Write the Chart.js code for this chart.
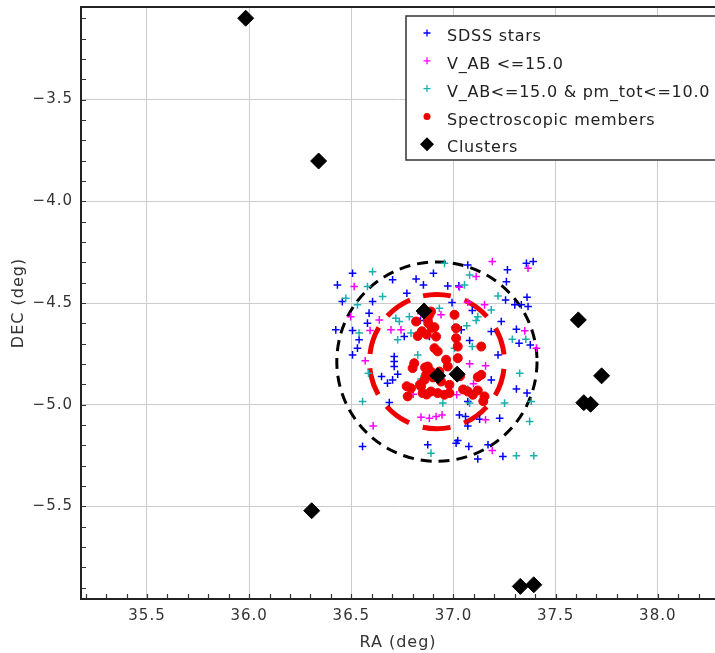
<!DOCTYPE html>
<html>
<head>
<meta charset="utf-8">
<title>Stars and clusters around the field centre</title>
<script src="https://cdn.jsdelivr.net/npm/chart.js@4.4.1/dist/chart.umd.min.js"></script>
<style>
    html, body { margin: 0; padding: 0; background: #fff; }
</style>
</head>
<body>
<canvas id="skyChart" width="715" height="653"></canvas>
<script>
// Sky positions in degrees, [RA, DEC]
const sdssStars = [
    [36.506, -4.354], [36.432, -4.411], [36.456, -4.493], [36.424, -4.632], [36.506, -4.635],
    [36.538, -4.681], [36.530, -4.722], [36.506, -4.755], [36.587, -4.550], [36.579, -4.599],
    [36.604, -4.493], [36.702, -4.386], [36.710, -4.763], [36.710, -4.788], [36.710, -4.812],
    [36.727, -4.850], [36.677, -4.894], [36.648, -4.861], [36.702, -4.878], [36.759, -4.665],
    [36.772, -4.452], [36.817, -4.382], [36.853, -4.411], [36.902, -4.354], [36.972, -4.416],
    [37.026, -4.416], [37.070, -4.313], [36.993, -4.498], [37.021, -4.624], [37.038, -4.632],
    [36.882, -4.665], [37.079, -4.684], [37.185, -4.640], [37.234, -4.591], [37.264, -4.337],
    [37.259, -4.395], [37.255, -4.485], [37.300, -4.509], [37.332, -4.509], [37.365, -4.517],
    [37.360, -4.472], [37.357, -4.305], [37.390, -4.296], [37.308, -4.629], [37.321, -4.698],
    [37.376, -4.706], [37.218, -4.755], [37.185, -4.878], [37.308, -4.923], [37.360, -4.943],
    [36.686, -4.989], [36.874, -5.197], [37.013, -5.189], [37.021, -5.176], [37.029, -5.050],
    [37.059, -5.058], [37.128, -5.071], [37.070, -5.104], [37.226, -5.066], [37.075, -5.205],
    [37.119, -5.267], [37.169, -5.197], [37.242, -5.254], [36.555, -5.205], [36.882, -4.935],
    [36.915, -4.943], [37.092, -4.537], [36.838, -4.586], [37.070, -4.984]
];
const brightStars = [
    [36.514, -4.419], [36.497, -4.567], [36.637, -4.583], [36.592, -4.635], [36.568, -4.784],
    [36.694, -4.632], [36.743, -4.632], [36.841, -4.553], [36.939, -4.558], [37.029, -4.422],
    [37.111, -4.370], [37.190, -4.296], [37.365, -4.329], [37.070, -4.496], [37.152, -4.509],
    [37.079, -4.799], [37.157, -4.809], [37.098, -4.897], [37.016, -4.951], [36.841, -5.061],
    [36.882, -5.066], [36.915, -5.058], [36.944, -5.050], [36.607, -5.104], [37.157, -5.074],
    [37.190, -5.225], [37.349, -4.637], [37.406, -4.722], [36.803, -4.948]
];
const brightLowPmStars = [
    [36.604, -4.346], [36.473, -4.477], [36.530, -4.509], [36.653, -4.468], [36.579, -4.419],
    [36.538, -4.648], [36.718, -4.575], [36.735, -4.591], [36.792, -4.648], [36.727, -4.681],
    [36.784, -4.567], [36.825, -4.755], [36.584, -4.845], [36.841, -4.874], [36.555, -4.984],
    [36.956, -4.305], [37.054, -4.411], [37.079, -4.362], [37.119, -4.567], [37.111, -4.586],
    [37.185, -4.534], [37.005, -4.619], [37.005, -4.722], [37.092, -4.714], [37.065, -4.612],
    [37.218, -4.465], [37.288, -4.678], [37.354, -4.678], [36.931, -4.526], [37.324, -4.845],
    [37.070, -4.923], [36.948, -4.992], [37.079, -4.992], [37.250, -4.992], [37.381, -4.984],
    [37.373, -5.082], [37.308, -5.251], [37.393, -5.251], [36.890, -5.238]
];
const specMembers = [
    [36.817, -4.591], [36.825, -4.662], [36.874, -4.583], [36.890, -4.542], [36.882, -4.558],
    [36.907, -4.619], [36.915, -4.665], [37.005, -4.558], [37.013, -4.624], [37.013, -4.673],
    [37.021, -4.714], [37.136, -4.714], [36.907, -4.722], [36.923, -4.738], [36.964, -4.779],
    [37.021, -4.771], [36.972, -4.812], [36.808, -4.796], [36.800, -4.820], [36.874, -4.812],
    [36.890, -4.837], [36.866, -4.853], [36.858, -4.878], [36.841, -4.910], [36.792, -4.919],
    [36.776, -4.959], [36.849, -4.943], [36.890, -4.935], [36.923, -4.943], [36.956, -4.951],
    [36.980, -4.943], [36.980, -4.902], [36.939, -4.886], [36.907, -4.861], [36.931, -4.837],
    [37.070, -4.935], [37.095, -4.951], [37.119, -4.930], [37.136, -4.853], [37.119, -4.864],
    [37.152, -4.959], [36.869, -4.655], [36.845, -4.639], [36.861, -4.817], [36.885, -4.842],
    [36.900, -4.866], [36.771, -4.909], [37.146, -4.983], [37.032, -4.860], [36.894, -4.622],
    [36.877, -4.600], [36.836, -4.901], [36.869, -4.950], [37.047, -4.925]
];
const clusters = [
    [35.983, -3.100], [36.340, -3.802], [36.306, -5.521], [36.856, -4.539], [36.923, -4.858],
    [37.018, -4.850], [37.611, -4.583], [37.725, -4.858], [37.638, -4.990], [37.671, -4.998],
    [37.327, -5.893], [37.393, -5.885]
];

const seriesLabels = ['SDSS stars', 'V_AB <=15.0', 'V_AB<=15.0 & pm_tot<=10.0', 'Spectroscopic members', 'Clusters'];
const xTicks = [35.5, 36.0, 36.5, 37.0, 37.5, 38.0];
const yTicks = [-3.5, -4.0, -4.5, -5.0, -5.5];
const xRange = [35.177, 38.28];
const yRange = [-5.955, -3.045];

// Field circles around the cluster centre (degrees)
const fieldCentre = [36.919, -4.788];
const outerRadius = 0.49;
const innerRadius = 0.33;

const FONT = '"DejaVu Sans", "Liberation Sans", sans-serif';
Chart.defaults.font.family = FONT;

function toXY(list) {
    return list.map(([x, y]) => ({ x, y }));
}

// Dashed circles, drawn under the points
const fieldCircles = {
    id: 'fieldCircles',
    beforeDatasetsDraw(chart) {
        const { ctx, scales: { x, y } } = chart;
        const cx = x.getPixelForValue(fieldCentre[0]);
        const cy = y.getPixelForValue(fieldCentre[1]);
        const ring = (r) => [
            x.getPixelForValue(fieldCentre[0] + r) - cx,
            cy - y.getPixelForValue(fieldCentre[1] + r)
        ];
        ctx.save();
        ctx.lineCap = 'butt';

        const [rxo, ryo] = ring(outerRadius);
        ctx.strokeStyle = '#000';
        ctx.lineWidth = 3;
        ctx.setLineDash([11, 7]);
        ctx.beginPath();
        ctx.ellipse(cx, cy, rxo, ryo, 0, 0, Math.PI * 2);
        ctx.stroke();

        // inner ring: ten thick dashes, one centred at the top
        const [rxi, ryi] = ring(innerRadius);
        const period = (Math.PI * (rxi + ryi)) / 10;
        const dash = period * 0.66;
        const start = -Math.PI / 2 - (dash / 2) / rxi;
        ctx.strokeStyle = '#ee0000';
        ctx.lineWidth = 5;
        ctx.setLineDash([dash, period - dash]);
        ctx.beginPath();
        ctx.ellipse(cx, cy, rxi, ryi, 0, start, start + Math.PI * 2);
        ctx.stroke();
        ctx.restore();
    }
};

// Frame top line plus the small inward ticks every 0.1 deg
const axisFrame = {
    id: 'axisFrame',
    beforeDraw(chart) {
        chart.ctx.letterSpacing = '1px';
    },
    afterDraw(chart) {
        const { ctx, chartArea: a, scales: { x, y } } = chart;
        ctx.save();
        ctx.strokeStyle = '#222';
        ctx.lineWidth = 2;
        ctx.beginPath();
        ctx.moveTo(a.left - 1, a.top);
        ctx.lineTo(a.right + 2, a.top);
        ctx.stroke();

        ctx.lineWidth = 1.2;
        ctx.strokeStyle = '#333';
        ctx.beginPath();
        for (let k = Math.ceil(x.min * 10); k <= Math.floor(x.max * 10); k++) {
            const px = Math.round(x.getPixelForValue(k / 10)) + 0.5;
            ctx.moveTo(px, a.bottom);
            ctx.lineTo(px, a.bottom - 5);
        }
        for (let k = Math.ceil(y.min * 10); k <= Math.floor(y.max * 10); k++) {
            const py = Math.round(y.getPixelForValue(k / 10)) + 0.5;
            ctx.moveTo(a.left, py);
            ctx.lineTo(a.left + 5, py);
        }
        ctx.stroke();
        ctx.restore();
    }
};

function drawMarker(ctx, ds, x, y) {
    ctx.fillStyle = ds.backgroundColor;
    ctx.strokeStyle = ds.borderColor;
    ctx.lineWidth = 1.3;
    ctx.beginPath();
    if (ds.pointStyle === 'cross') {
        ctx.moveTo(x - 3.5, y); ctx.lineTo(x + 3.5, y);
        ctx.moveTo(x, y - 3.5); ctx.lineTo(x, y + 3.5);
        ctx.stroke();
    } else if (ds.pointStyle === 'rectRot') {
        ctx.moveTo(x - 7, y); ctx.lineTo(x, y - 7);
        ctx.lineTo(x + 7, y); ctx.lineTo(x, y + 7);
        ctx.closePath();
        ctx.fill();
    } else {
        ctx.arc(x, y, 3.5, 0, Math.PI * 2);
        ctx.fill();
    }
}

// Boxed legend in the upper right of the plot
const insetLegend = {
    id: 'insetLegend',
    afterDraw(chart) {
        const { ctx, chartArea: a } = chart;
        const left = 406, top = 16, height = 144, row = 27.8;
        ctx.save();
        ctx.fillStyle = '#fff';
        ctx.fillRect(left, top, a.right - left + 10, height);
        ctx.strokeStyle = '#333';
        ctx.lineWidth = 1.5;
        ctx.strokeRect(left, top, a.right - left + 10, height);
        chart.data.datasets.forEach((ds, i) => {
            const yy = top + 21 + i * row;
            drawMarker(ctx, ds, 427, yy - 4);
            ctx.font = '16px ' + FONT;
            ctx.letterSpacing = '0.75px';
            ctx.fillStyle = '#222';
            ctx.textBaseline = 'middle';
            ctx.textAlign = 'left';
            ctx.fillText(ds.label, 447, yy);
        });
        ctx.restore();
    }
};

function makeSet(i, points, style, color, radius, order) {
    const isCross = style === 'cross';
    return {
        label: seriesLabels[i],
        data: toXY(points),
        pointStyle: style,
        pointRadius: radius,
        pointBorderWidth: isCross ? 1.5 : 1,
        pointBorderColor: color,
        pointBackgroundColor: color,
        borderColor: color,
        backgroundColor: color,
        order: order
    };
}

const datasets = [
    makeSet(0, sdssStars, 'cross', '#0000ff', 3.8, 5),
    makeSet(1, brightStars, 'cross', '#ff00ff', 3.8, 4),
    makeSet(2, brightLowPmStars, 'cross', '#1ab0b0', 3.8, 3),
    makeSet(3, specMembers, 'circle', '#ee0000', 4.5, 2),
    makeSet(4, clusters, 'rectRot', '#000000', 8, 1)
];

const tickFont = { family: FONT, size: 15 };
const titleFont = { family: FONT, size: 16 };

// keep the plot edges where the axis boxes put them
function noScalePadding(s) {
    s.paddingTop = 0;
    s.paddingBottom = 0;
    s.paddingLeft = 0;
    s.paddingRight = 0;
}

new Chart(document.getElementById('skyChart'), {
    type: 'scatter',
    data: { datasets: datasets },
    options: {
        responsive: false,
        animation: false,
        events: [],
        layout: { autoPadding: false, padding: { top: 7, right: 0, bottom: 0, left: 0 } },
        plugins: {
            legend: { display: false },
            tooltip: { enabled: false }
        },
        scales: {
            x: {
                type: 'linear',
                min: xRange[0],
                max: xRange[1],
                afterBuildTicks: (s) => { s.ticks = xTicks.map(v => ({ value: v })); },
                afterFit: (s) => { s.height = 54; noScalePadding(s); },
                grid: { color: '#cccccc', lineWidth: 1, drawTicks: false },
                border: { display: true, color: '#222', width: 2 },
                ticks: {
                    color: '#333', font: tickFont, padding: 8, maxRotation: 0, autoSkip: false,
                    callback: (v) => Number(v).toFixed(1)
                },
                title: {
                    display: true, text: 'RA (deg)', color: '#333', font: titleFont,
                    padding: { top: 0, bottom: 1 }
                }
            },
            y: {
                type: 'linear',
                min: yRange[0],
                max: yRange[1],
                afterBuildTicks: (s) => { s.ticks = yTicks.map(v => ({ value: v })); },
                afterFit: (s) => { s.width = 81; noScalePadding(s); },
                grid: { color: '#cccccc', lineWidth: 1, drawTicks: false },
                border: { display: true, color: '#222', width: 2 },
                ticks: {
                    color: '#333', font: tickFont, padding: 8, autoSkip: false,
                    callback: (v) => Number(v).toFixed(1).replace('-', '\u2212')
                },
                title: {
                    display: true, text: 'DEC (deg)', color: '#333', font: titleFont,
                    padding: { top: 9, bottom: 0 }
                }
            }
        }
    },
    plugins: [fieldCircles, axisFrame, insetLegend]
});
</script>
</body>
</html>
